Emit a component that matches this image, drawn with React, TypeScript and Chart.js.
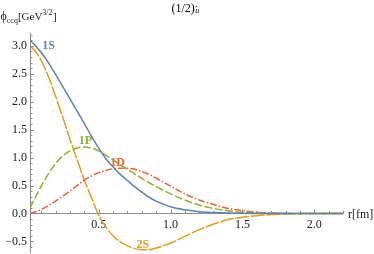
import React, { useEffect, useRef } from "react";
import { Chart, registerables } from "chart.js";

Chart.register(...registerables);

// radial coordinate r [fm]
const rValues = [0.022, 0.05, 0.1, 0.15, 0.2, 0.25, 0.3, 0.35, 0.4, 0.45, 0.5, 0.55, 0.6, 0.65, 0.7, 0.75, 0.8, 0.85, 0.9, 1.0, 1.1, 1.2, 1.3, 1.4, 1.5, 1.6, 1.7, 1.8, 1.9, 2.0, 2.1, 2.2];

const phi1S = [3.10, 3.03, 2.88, 2.70, 2.49, 2.27, 2.05, 1.83, 1.61, 1.38, 1.17, 0.98, 0.83, 0.70, 0.59, 0.48, 0.38, 0.29, 0.22, 0.12, 0.065, 0.03, 0.015, 0.006, 0.002, 0, 0, 0, 0, 0, 0, 0];
const phi2S = [3.0, 2.93, 2.74, 2.45, 2.10, 1.72, 1.33, 0.96, 0.60, 0.28, -0.03, -0.24, -0.40, -0.51, -0.58, -0.63, -0.65, -0.65, -0.62, -0.53, -0.41, -0.29, -0.19, -0.11, -0.07, -0.04, -0.02, -0.01, -0.005, 0, 0, 0];
const phi1P = [0.10, 0.24, 0.49, 0.71, 0.89, 1.03, 1.12, 1.17, 1.19, 1.17, 1.12, 1.04, 0.96, 0.87, 0.79, 0.71, 0.63, 0.55, 0.48, 0.35, 0.24, 0.15, 0.09, 0.05, 0.02, 0.01, 0.004, 0, 0, 0, 0, 0];
const phi1D = [0, 0.02, 0.07, 0.14, 0.22, 0.31, 0.40, 0.50, 0.60, 0.67, 0.73, 0.77, 0.80, 0.81, 0.81, 0.79, 0.75, 0.70, 0.63, 0.49, 0.35, 0.24, 0.16, 0.09, 0.05, 0.02, 0.01, 0.003, 0, 0, 0, 0];

const seriesNames = ["1S", "1P", "1D", "2S"];

const xTickValues = [0.5, 1.0, 1.5, 2.0];
const xTickLabels = ["0.5", "1.0", "1.5", "2.0"];
const yTickValues = [-0.5, 0, 0.5, 1.0, 1.5, 2.0, 2.5, 3.0];
const yTickLabels = ["\u22120.5", "0.0", "0.5", "1.0", "1.5", "2.0", "2.5", "3.0"];

// label anchor points (data coordinates)
const labelR = [0.152, 0.407, 0.631, 0.807];
const labelV = [3.0, 1.30, 0.90, -0.57];

const X_MIN = 0.022;
const X_MAX = 2.2;
const Y_MIN = -0.69;
const Y_MAX = 3.23;

const COLORS = {
  s1: "#5E81B5",
  p1: "#8FB032",
  d1: "#EB6235",
  s2: "#E19C24",
};

const SERIF = "'Liberation Serif', 'Times New Roman', serif";
const AXIS_COLOR = "#8c8c8c";
const TEXT_COLOR = "#222";

function pts(vals: number[]) {
  return rValues.map((r, i) => ({ x: r, y: vals[i] }));
}

const decorPlugin = {
  id: "decor",
  afterDraw(chart: any) {
    const ctx = chart.ctx as CanvasRenderingContext2D;
    const xs = chart.scales.x;
    const ys = chart.scales.y;
    const x0 = xs.getPixelForValue(X_MIN);
    const y0 = ys.getPixelForValue(0);
    ctx.save();
    ctx.strokeStyle = AXIS_COLOR;
    ctx.lineWidth = 1;
    // x ticks (inside, upward)
    for (let k = 1; k <= 22; k++) {
      const v = k / 10;
      if (v < X_MIN || v > X_MAX + 1e-9) continue;
      const major = xTickValues.some((t) => Math.abs(t - v) < 1e-6);
      const px = Math.round(xs.getPixelForValue(v)) + 0.5;
      ctx.beginPath();
      ctx.moveTo(px, y0);
      ctx.lineTo(px, y0 - (major ? 4 : 2.5));
      ctx.stroke();
    }
    // y ticks (inside, to the right)
    for (let k = -6; k <= 32; k++) {
      const v = k / 10;
      if (v < Y_MIN || v > Y_MAX) continue;
      const major = yTickValues.some((t) => Math.abs(t - v) < 1e-6);
      const py = Math.round(ys.getPixelForValue(v)) + 0.5;
      ctx.beginPath();
      ctx.moveTo(x0, py);
      ctx.lineTo(x0 + (major ? 4 : 2.5), py);
      ctx.stroke();
    }

    // curve labels
    const labelColors = [COLORS.s1, COLORS.p1, COLORS.d1, COLORS.s2];
    ctx.font = `bold 12px ${SERIF}`;
    ctx.textAlign = "center";
    ctx.textBaseline = "middle";
    seriesNames.forEach((n, i) => {
      ctx.fillStyle = labelColors[i];
      ctx.fillText(n, xs.getPixelForValue(labelR[i]), ys.getPixelForValue(labelV[i]));
    });

    // title (1/2)'_u
    ctx.fillStyle = "#000";
    ctx.textAlign = "left";
    ctx.textBaseline = "alphabetic";
    ctx.font = `12px ${SERIF}`;
    let tx = 171.5;
    const ty = 11.5;
    ctx.fillText("(1/2)", tx, ty);
    tx += ctx.measureText("(1/2)").width;
    ctx.font = `10px 'DejaVu Serif', ${SERIF}`;
    ctx.fillText("\u2032", tx + 0.5, ty + 1);
    ctx.font = `italic 8px ${SERIF}`;
    ctx.fillText("u", tx + 0.5, ty + 1);

    // y-axis label
    ctx.fillStyle = TEXT_COLOR;
    ctx.font = `12px ${SERIF}`;
    let lx = 0.5;
    const ly = 20;
    ctx.fillText("\u03D5", lx, ly);
    lx += ctx.measureText("\u03D5").width;
    ctx.font = `8px ${SERIF}`;
    ctx.fillText("ccq", lx, ly + 2.5);
    lx += ctx.measureText("ccq").width;
    ctx.font = `11px ${SERIF}`;
    ctx.fillText("[GeV", lx, ly);
    lx += ctx.measureText("[GeV").width;
    ctx.font = `8px ${SERIF}`;
    ctx.fillText("3/2", lx, ly - 5);
    lx += ctx.measureText("3/2").width;
    ctx.font = `11px ${SERIF}`;
    ctx.fillText("]", lx + 0.5, ly);

    // x-axis label
    ctx.font = `12px ${SERIF}`;
    ctx.textBaseline = "middle";
    ctx.fillText("r[fm]", xs.getPixelForValue(X_MAX) + 5, y0 + 1);
    ctx.restore();
  },
};

export default function App() {
  const ref = useRef<HTMLCanvasElement | null>(null);

  useEffect(() => {
    if (!ref.current) return;
    const chart = new Chart(ref.current, {
      type: "line",
      data: {
        datasets: [
          {
            label: "1S",
            data: pts(phi1S),
            borderColor: COLORS.s1,
            borderWidth: 1.5,
          },
          {
            label: "1P",
            data: pts(phi1P),
            borderColor: COLORS.p1,
            borderWidth: 1.5,
            borderDash: [8, 2.5],
          },
          {
            label: "1D",
            data: pts(phi1D),
            borderColor: COLORS.d1,
            borderWidth: 1.5,
            borderDash: [7, 2, 1.5, 2],
          },
          {
            label: "2S",
            data: pts(phi2S),
            borderColor: COLORS.s2,
            borderWidth: 1.5,
            borderDash: [14, 1.5],
          },
        ],
      },
      options: {
        animation: false,
        responsive: false,
        devicePixelRatio: 1,
        parsing: false,
        layout: { padding: { left: 0, right: 31, top: 33, bottom: 2 } },
        elements: {
          point: { radius: 0 },
          line: { cubicInterpolationMode: "monotone", fill: false },
        },
        plugins: {
          legend: { display: false },
          tooltip: { enabled: false },
          title: { display: false },
        },
        scales: {
          x: {
            type: "linear",
            min: X_MIN,
            max: X_MAX,
            position: { y: 0 } as any,
            grid: { display: false, drawTicks: false },
            border: { display: true, color: AXIS_COLOR, width: 1 },
            afterBuildTicks: (s: any) => {
              s.ticks = xTickValues.map((v) => ({ value: v }));
            },
            afterFit: (s: any) => {
              s.paddingLeft = 0;
              s.paddingRight = 0;
              s.paddingTop = 0;
              s.paddingBottom = 0;
            },
            ticks: {
              padding: 4,
              color: TEXT_COLOR,
              font: { family: SERIF, size: 12 },
              maxRotation: 0,
              autoSkip: false,
              callback: (v: any) => {
                const i = xTickValues.findIndex((t) => Math.abs(t - Number(v)) < 1e-6);
                return i >= 0 ? xTickLabels[i] : "";
              },
            },
          },
          y: {
            type: "linear",
            min: Y_MIN,
            max: Y_MAX,
            position: "left",
            afterFit: (s: any) => {
              s.width = 30;
              s.paddingTop = 0;
              s.paddingBottom = 0;
              s.paddingLeft = 0;
              s.paddingRight = 0;
            },
            grid: { display: false, drawTicks: false },
            border: { display: true, color: AXIS_COLOR, width: 1 },
            afterBuildTicks: (s: any) => {
              s.ticks = yTickValues.map((v) => ({ value: v }));
            },
            ticks: {
              padding: 3,
              color: TEXT_COLOR,
              font: { family: SERIF, size: 12 },
              autoSkip: false,
              callback: (v: any) => {
                const i = yTickValues.findIndex((t) => Math.abs(t - Number(v)) < 1e-6);
                return i >= 0 ? yTickLabels[i] : "";
              },
            },
          },
        },
      },
      plugins: [decorPlugin],
    } as any);
    return () => chart.destroy();
  }, []);

  return (
    <div style={{ position: "fixed", left: 0, top: 0, width: 374, height: 254, background: "#fff" }}>
      <canvas ref={ref} width={374} height={254} style={{ width: 374, height: 254 }} />
    </div>
  );
}
